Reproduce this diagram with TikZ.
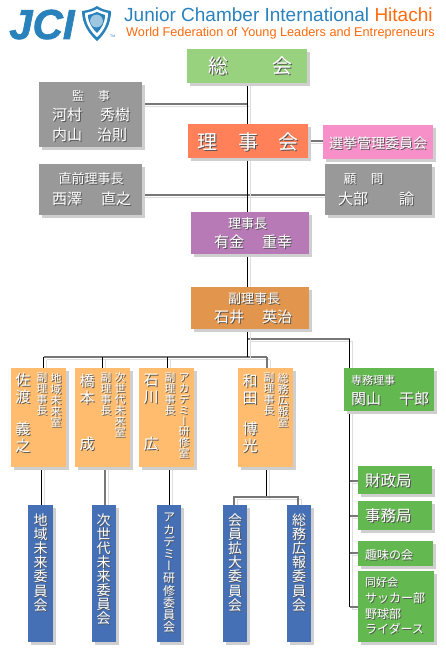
\documentclass[tikz,border=0pt]{standalone}
\usepackage{fontspec}
\usetikzlibrary{backgrounds}
\setmainfont{Liberation Sans}
\newfontfamily\jcif[FakeBold=1.6]{Liberation Sans Bold Italic}
\newfontfamily\cjk{Noto Sans CJK JP}
\newfontfamily\cjkv[RawFeature={+vert}]{Noto Sans CJK JP}
\definecolor{jblue}{HTML}{2A82BD}
\definecolor{jorange}{HTML}{FF6A0D}
\definecolor{cSou}{HTML}{99D27F}
\definecolor{cGray}{HTML}{999999}
\definecolor{cRed}{HTML}{FF8059}
\definecolor{cPink}{HTML}{F78FC8}
\definecolor{cPurple}{HTML}{B87AB7}
\definecolor{cOrange}{HTML}{E2964D}
\definecolor{cLight}{HTML}{FFBC6E}
\definecolor{cBlue}{HTML}{4570B5}
\definecolor{cGreen}{HTML}{63B84F}
\definecolor{cShadow}{HTML}{CFCFCF}
\definecolor{cLine}{HTML}{777777}
\definecolor{cTxtSh}{HTML}{555555}
\tikzset{
  orgbox/.style={rectangle,inner sep=0pt,outer sep=0pt,anchor=north west,
    preaction={fill=cShadow,transform canvas={shift={(3pt,-3pt)}}}},
  conn/.style={draw=black,line width=1pt,
    preaction={draw=cShadow!70,line width=1pt,transform canvas={shift={(3pt,-2.5pt)}}}},
  graycon/.style={draw=cLine,line width=1.6pt,
    preaction={draw=cShadow!70,line width=1pt,transform canvas={shift={(3pt,-2.5pt)}}}},
  txt/.style={inner sep=0pt,outer sep=0pt,text=white},
  txtsh/.style={inner sep=0pt,outer sep=0pt,text=cTxtSh}
}
\newcommand\bx[6]{% name,x1,y1,x2,y2,colour
  \node[orgbox,fill=#6,minimum width=#4pt-#2pt,minimum height=#5pt-#3pt] (#1) at (#2,#3) {};}
\newcommand\lbl[6]{% name,x,y,anchor,size,text
  \node[txtsh,anchor=#4,font=\cjk\fontsize{#5}{#5}\selectfont] (#1s) at ([xshift=1pt,yshift=-1pt]#2,#3) {#6};
  \node[txt,anchor=#4,font=\cjk\fontsize{#5}{#5}\selectfont] (#1) at (#2,#3) {#6};}
\makeatletter
\newcommand\stackchars[2]{\vbox{\baselineskip=#1pt \lineskiplimit=-100pt
  \@tfor\cc:=#2\do{\hbox to 2em{\hss\cc\hss}}}}
\makeatother
\newcommand\vlbl[6]{% name,x,ymid,size,pitch,text
  \node[txtsh,font=\cjkv\fontsize{#4}{#4}\selectfont] (#1s) at ([xshift=1pt,yshift=-1pt]#2,#3) {\stackchars{#5}{#6}};
  \node[txt,font=\cjkv\fontsize{#4}{#4}\selectfont] (#1) at (#2,#3) {\stackchars{#5}{#6}};}
\begin{document}
\begin{tikzpicture}[x=1pt,y=-1pt]
\useasboundingbox (0,0) rectangle (445,658);
% boxes
\bx{sou}{187}{49}{307}{83}{cSou}
\bx{kan}{38.5}{82}{142}{147}{cGray}
\bx{rij}{188}{124}{308}{158}{cRed}
\bx{sen}{323}{125}{433}{159}{cPink}
\bx{zen}{38.5}{164}{142}{215}{cGray}
\bx{kom}{325}{164}{432}{215}{cGray}
\bx{cho}{191}{212}{309}{254}{cPurple}
\bx{fuk}{191}{287}{309}{329}{cOrange}
\bx{osa}{10.7}{368}{66}{467}{cLight}
\bx{oha}{75}{368}{130}{467}{cLight}
\bx{ois}{139}{368}{194}{467}{cLight}
\bx{owa}{238}{368}{293}{467}{cLight}
\bx{bch}{28}{505}{53}{642}{cBlue}
\bx{bji}{92}{505}{116}{642}{cBlue}
\bx{bak}{157}{505}{181}{642}{cBlue}
\bx{bkai}{223}{505}{247}{642}{cBlue}
\bx{bsou}{287}{505}{311}{642}{cBlue}
\bx{sek}{344}{368}{434}{411}{cGreen}
\bx{zai}{358}{466}{432}{494}{cGreen}
\bx{jim}{358}{501}{432}{530}{cGreen}
\bx{shu}{358}{541}{433}{566}{cGreen}
\bx{dou}{358}{571}{433.5}{642}{cGreen}
% junction coordinates
\coordinate (jk) at (247.5,104);
\coordinate (jz) at (247.5,195);
\coordinate (jh) at (247.5,339);
\coordinate (jm) at (247.5,357);
\coordinate (hl) at (43.5,357);
\coordinate (h2) at (102,357);
\coordinate (h3) at (167.5,357);
\coordinate (h4) at (267,357);
\coordinate (sc) at (349.5,339);
\coordinate (sb) at (349.5,607);
\coordinate (b1) at (349.5,481);
\coordinate (b2) at (349.5,516);
\coordinate (b3) at (349.5,553);
\coordinate (t1) at (234,497);
\coordinate (t2) at (298,497);
\coordinate (tc) at (266.5,497);
\coordinate (d1) at (41,0);
\coordinate (d2) at (105,0);
\coordinate (d3) at (169.5,0);
% connectors
\begin{scope}[on background layer]
\fill[white] (0,0) rectangle (445,658);
\draw[graycon] (kan.east |- jk) -- (jk);
\draw[graycon] (zen.east |- jz) -- (kom.west |- jz);
\draw[graycon] (rij.east) -- (sen.west |- rij.east);
\draw[graycon] (jh) -- (sc);
\draw[graycon] (hl) -- (jm) -- (h4);
\draw[graycon] (h4) -- (h4 |- owa.north);
\draw[conn] (jm |- sou.south) -- (jm);
\draw[conn] (hl) -- (hl |- osa.north);
\draw[conn] (h2) -- (h2 |- oha.north);
\draw[conn] (h3) -- (h3 |- ois.north);
\draw[conn] (sc) -- (sb);
\draw[graycon] (b1) -- (zai.west |- b1);
\draw[graycon] (b2) -- (jim.west |- b2);
\draw[graycon] (b3) -- (shu.west |- b3);
\draw[graycon] (sb) -- (dou.west |- sb);
\draw[conn] (d1 |- osa.south) -- (d1 |- bch.north);
\draw[graycon] (d2 |- oha.south) -- (d2 |- bji.north);
\draw[conn] (d3 |- ois.south) -- (d3 |- bak.north);
\draw[conn] (tc |- owa.south) -- (tc);
\draw[graycon] (t1 |- bkai.north) -- (t1) -- (t2) -- (t2 |- bsou.north);
\end{scope}
% header
\node[inner sep=0pt,anchor=base west,text=jblue,font=\jcif\fontsize{42}{42}\selectfont] (jci) at (9,39) {JCI};
\path[fill=jblue] (82,11) .. controls (90,10) and (94,8) .. (97,6) .. controls (100,8) and (104,10) .. (111,11)
  .. controls (111,24) and (105,34) .. (97,41) .. controls (89,34) and (82,24) .. (82,11) -- cycle;
\path[fill=white] (85,13) .. controls (90,12) and (94,11) .. (97,9) .. controls (100,11) and (104,12) .. (108,13)
  .. controls (108,23) and (103,32) .. (97,37) .. controls (91,32) and (85,23) .. (85,13) -- cycle;
\path[fill=jblue] (88,15) .. controls (92,14) and (95,13) .. (97,12) .. controls (99,13) and (102,14) .. (105,15)
  .. controls (105,23) and (101,29) .. (97,33) .. controls (93,29) and (88,23) .. (88,15) -- cycle;
\path[fill=white!55!jblue] (96.5,21) circle (6.4);
\node[inner sep=0pt,anchor=base west,text=jblue,font=\fontsize{3.5}{3.5}\selectfont] (tm) at (110,37.5) {TM};
\node[inner sep=0pt,anchor=base west,font=\fontsize{19}{19}\selectfont] (title) at (124,22)
  {\textcolor{jblue}{Junior Chamber International} \textcolor{jorange}{Hitachi}};
\node[inner sep=0pt,anchor=base west,text=jorange,font=\fontsize{12.7}{12.7}\selectfont] (sub) at (126,36.5)
  {World Federation of Young Leaders and Entrepreneurs};
% labels
\lbl{t1a}{218}{66}{center}{20}{総}
\lbl{t1b}{282}{66}{center}{20}{会}
\lbl{t2a}{78}{96}{center}{12}{監}
\lbl{t2b}{104}{96}{center}{12}{事}
\lbl{t2c}{52}{115}{west}{15}{河村}
\lbl{t2d}{100}{115}{west}{15}{秀樹}
\lbl{t2e}{52}{135}{west}{15}{内山}
\lbl{t2f}{97}{135}{west}{15}{治則}
\lbl{t3a}{207}{142}{center}{20}{理}
\lbl{t3b}{248}{142}{center}{20}{事}
\lbl{t3c}{288}{142}{center}{20}{会}
\lbl{t4}{378}{143}{center}{14}{選挙管理委員会}
\lbl{t5a}{91}{179}{center}{13}{直前理事長}
\lbl{t5b}{52}{199}{west}{15}{西澤}
\lbl{t5c}{101}{199}{west}{15}{直之}
\lbl{t6a}{350}{179}{center}{12.5}{顧}
\lbl{t6b}{377}{179}{center}{12.5}{問}
\lbl{t6c}{338}{199}{west}{15}{大部}
\lbl{t6d}{399}{199}{west}{15}{諭}
\lbl{t7a}{247.5}{224}{center}{13}{理事長}
\lbl{t7b}{214}{242}{west}{15}{有金}
\lbl{t7c}{262}{242}{west}{15}{重幸}
\lbl{t8a}{254}{299}{center}{13}{副理事長}
\lbl{t8b}{214}{317}{west}{15}{石井}
\lbl{t8c}{262}{317}{west}{15}{英治}
\lbl{t9a}{351}{380}{west}{11}{専務理事}
\lbl{t9b}{351}{399}{west}{15}{関山}
\lbl{t9c}{399}{399}{west}{15}{干郎}
\lbl{t10}{365}{481}{west}{15.5}{財政局}
\lbl{t11}{365}{516}{west}{15.5}{事務局}
\lbl{t12}{365}{555}{west}{12}{趣味の会}
\lbl{t13a}{365}{582}{west}{11}{同好会}
\lbl{t13b}{365}{598}{west}{12}{サッカー部}
\lbl{t13c}{365}{614}{west}{12}{野球部}
\lbl{t13d}{365}{629}{west}{12}{ライダース}
% orange box names
\vlbl{v1a}{23}{388.5}{15}{17}{佐渡}
\vlbl{v1b}{23}{437.5}{15}{17}{義之}
\vlbl{v1c}{42}{394}{10.7}{10.7}{副理事長}
\vlbl{v1d}{56}{400}{11}{11}{地域未来室}
\vlbl{v2a}{87}{389}{15}{17}{橋本}
\vlbl{v2b}{87}{444}{15}{17}{成}
\vlbl{v2c}{106}{394}{10.7}{10.7}{副理事長}
\vlbl{v2d}{120}{405}{11}{11}{次世代未来室}
\vlbl{v3a}{151}{389}{15}{17}{石川}
\vlbl{v3b}{151}{444}{15}{17}{広}
\vlbl{v3c}{170}{394}{10.7}{10.7}{副理事長}
\vlbl{v3d}{184}{416}{10.9}{10.9}{アカデミー研修室}
\vlbl{v4a}{250}{389}{15}{17}{和田}
\vlbl{v4b}{250}{437.5}{15}{17}{博光}
\vlbl{v4c}{269}{394}{10.7}{10.7}{副理事長}
\vlbl{v4d}{283}{400}{11}{11}{総務広報室}
% blue boxes
\vlbl{w1}{40.5}{562.5}{14}{14.1}{地域未来委員会}
\vlbl{w2}{103.5}{569}{14}{14}{次世代未来委員会}
\vlbl{w3}{169}{573}{12}{12.2}{アカデミー研修委員会}
\vlbl{w4}{235}{562.5}{14}{14.1}{会員拡大委員会}
\vlbl{w5}{299}{562.5}{14}{14.1}{総務広報委員会}
\end{tikzpicture}
\end{document}
